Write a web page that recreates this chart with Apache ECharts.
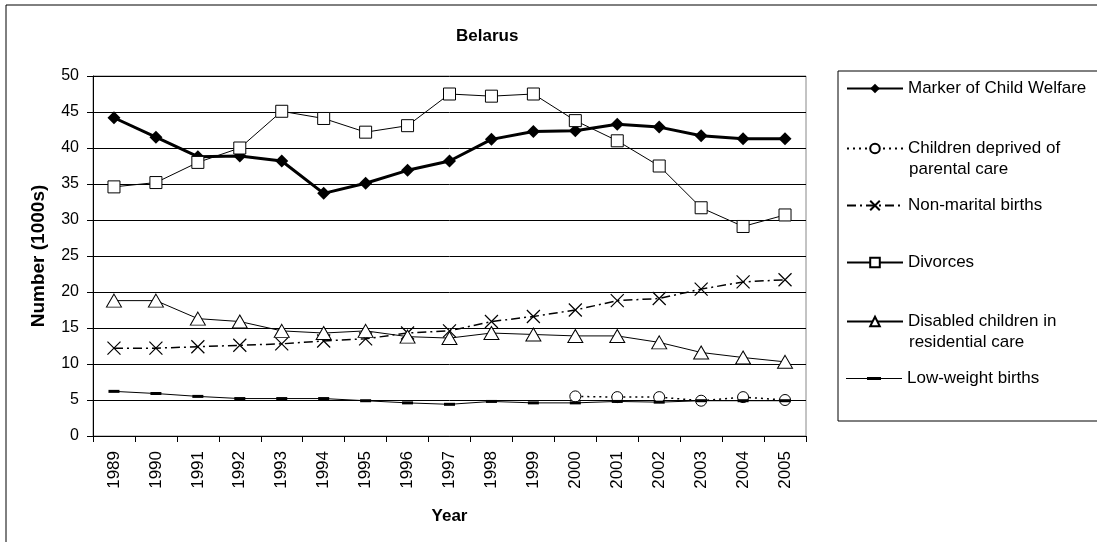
<!DOCTYPE html>
<html>
<head>
    <meta charset="utf-8">
    <title>Belarus</title>
    <script src="https://cdn.jsdelivr.net/npm/echarts@6/dist/echarts.min.js"></script>
    <style>
      body, canvas {
        padding: 0;
        margin: 0;
      }
    </style>
</head>
<body>
    <div id="main" style="width:1097px;height:542px"></div>
    <script type="text/javascript">
      const years = ['1989', '1990', '1991', '1992', '1993', '1994', '1995', '1996', '1997',
        '1998', '1999', '2000', '2001', '2002', '2003', '2004', '2005'];
      const markerWelfare = [44.2, 41.5, 38.8, 38.9, 38.2, 33.7, 35.1, 36.9, 38.2,
        41.2, 42.3, 42.4, 43.3, 42.9, 41.7, 41.3, 41.3];
      const deprivedCare = [null, null, null, null, null, null, null, null, null,
        null, null, 5.5, 5.4, 5.4, 4.9, 5.4, 5.0];
      const nonMarital = [12.2, 12.2, 12.4, 12.6, 12.8, 13.2, 13.5, 14.3, 14.6,
        15.9, 16.6, 17.5, 18.8, 19.1, 20.4, 21.4, 21.7];
      const divorces = [34.6, 35.2, 38.0, 40.0, 45.1, 44.1, 42.2, 43.1, 47.5,
        47.2, 47.5, 43.8, 41.0, 37.5, 31.7, 29.1, 30.7];
      const disabled = [18.8, 18.8, 16.3, 15.9, 14.6, 14.3, 14.6, 13.8, 13.6,
        14.3, 14.1, 13.9, 13.9, 13.0, 11.6, 10.9, 10.3];
      const lowWeight = [6.2, 5.9, 5.5, 5.2, 5.2, 5.2, 4.9, 4.6, 4.4,
        4.8, 4.6, 4.6, 4.8, 4.7, 4.9, 4.9, 4.9];

      const names = ['Marker of Child Welfare', 'Children deprived of', 'Non-marital births',
        'Divorces', 'Disabled children in', 'Low-weight births'];
      const legendY = [89, 149, 206, 263, 322, 379];

      const font = 'Liberation Sans, Arial, sans-serif';
      const crossPath = 'path://M0,0L10,10M10,0L0,10';
      // line with a short thick dash in the middle, for the low-weight legend entry
      const dashIcon = 'path://M0,4.5h56v1h-56z M21,3.5h14v3h-14z';

      var myChart = echarts.init(document.getElementById('main'));

      const legends = names.map((n, i) => ({
        data: i === 5 ? [{ name: n, icon: dashIcon, itemStyle: { color: '#000' } }] : [n],
        left: 846,
        top: legendY[i] - 9,
        padding: 0,
        itemWidth: 56,
        itemHeight: i === 5 ? 10 : 12,
        selectedMode: false,
        textStyle: { fontFamily: font, fontSize: 17, color: '#000' }
      }));

      option = {
        animation: false,
        backgroundColor: '#fff',
        title: {
          text: 'Belarus',
          left: 451,
          top: 23,
          textStyle: { fontFamily: font, fontSize: 17, fontWeight: 'bold', color: '#000' }
        },
        legend: legends,
        graphic: [
          { type: 'rect', shape: { x: 6, y: 5, width: 1120, height: 600 },
            style: { fill: null, stroke: '#000', lineWidth: 1 }, silent: true },
          { type: 'rect', shape: { x: 838, y: 71, width: 300, height: 350 },
            style: { fill: null, stroke: '#000', lineWidth: 1 }, silent: true },
          { type: 'text', left: 909, top: 161,
            style: { text: 'parental care', font: '17px ' + font, fill: '#000' } },
          { type: 'text', left: 909, top: 334,
            style: { text: 'residential care', font: '17px ' + font, fill: '#000' } }
        ],
        grid: {
          left: 93,
          right: 291,
          top: 76,
          bottom: 106,
          show: true,
          borderColor: '#888',
          borderWidth: 1
        },
        xAxis: {
          type: 'category',
          data: years,
          name: 'Year',
          nameLocation: 'middle',
          nameGap: 72,
          nameTextStyle: { fontFamily: font, fontSize: 17, fontWeight: 'bold', color: '#000' },
          axisLine: { lineStyle: { color: '#000', width: 1 } },
          axisTick: { show: true, length: 6, lineStyle: { color: '#000' } },
          axisLabel: { rotate: 90, margin: 15, fontFamily: font, fontSize: 17, color: '#000' }
        },
        yAxis: {
          type: 'value',
          min: 0,
          max: 50,
          interval: 5,
          name: 'Number (1000s)',
          nameLocation: 'middle',
          nameGap: 45,
          nameTextStyle: { fontFamily: font, fontSize: 19, fontWeight: 'bold', color: '#000' },
          axisLine: { show: true, lineStyle: { color: '#000', width: 1 } },
          axisTick: { show: true, length: 6, lineStyle: { color: '#000' } },
          axisLabel: { margin: 14, fontFamily: font, fontSize: 16, color: '#000' },
          splitLine: { lineStyle: { color: '#000', width: 1 } }
        },
        series: [
          {
            name: names[0], type: 'line', data: markerWelfare,
            symbol: 'diamond', symbolSize: 13,
            lineStyle: { color: '#000', width: 3 },
            itemStyle: { color: '#000' }
          },
          {
            name: names[1], type: 'line', data: deprivedCare,
            symbol: 'circle', symbolSize: 11,
            lineStyle: { color: '#000', width: 1.5, type: [2, 4] },
            itemStyle: { color: '#fff', borderColor: '#000', borderWidth: 1 }
          },
          {
            name: names[2], type: 'line', data: nonMarital,
            symbol: crossPath, symbolSize: 13,
            lineStyle: { color: '#000', width: 1.5, type: [9, 4, 2, 4] },
            itemStyle: { color: 'none', borderColor: '#000', borderWidth: 1.2 }
          },
          {
            name: names[3], type: 'line', data: divorces,
            symbol: 'rect', symbolSize: 12,
            lineStyle: { color: '#000', width: 1 },
            itemStyle: { color: '#fff', borderColor: '#000', borderWidth: 1 }
          },
          {
            name: names[4], type: 'line', data: disabled,
            symbol: 'triangle', symbolSize: [15, 13],
            lineStyle: { color: '#000', width: 1 },
            itemStyle: { color: '#fff', borderColor: '#000', borderWidth: 1 }
          },
          {
            name: names[5], type: 'line', data: lowWeight,
            symbol: 'rect', symbolSize: [11, 3],
            lineStyle: { color: '#000', width: 1 },
            itemStyle: { color: '#000' }
          }
        ]
      };
      myChart.setOption(option);
    </script>
</body>
</html>
